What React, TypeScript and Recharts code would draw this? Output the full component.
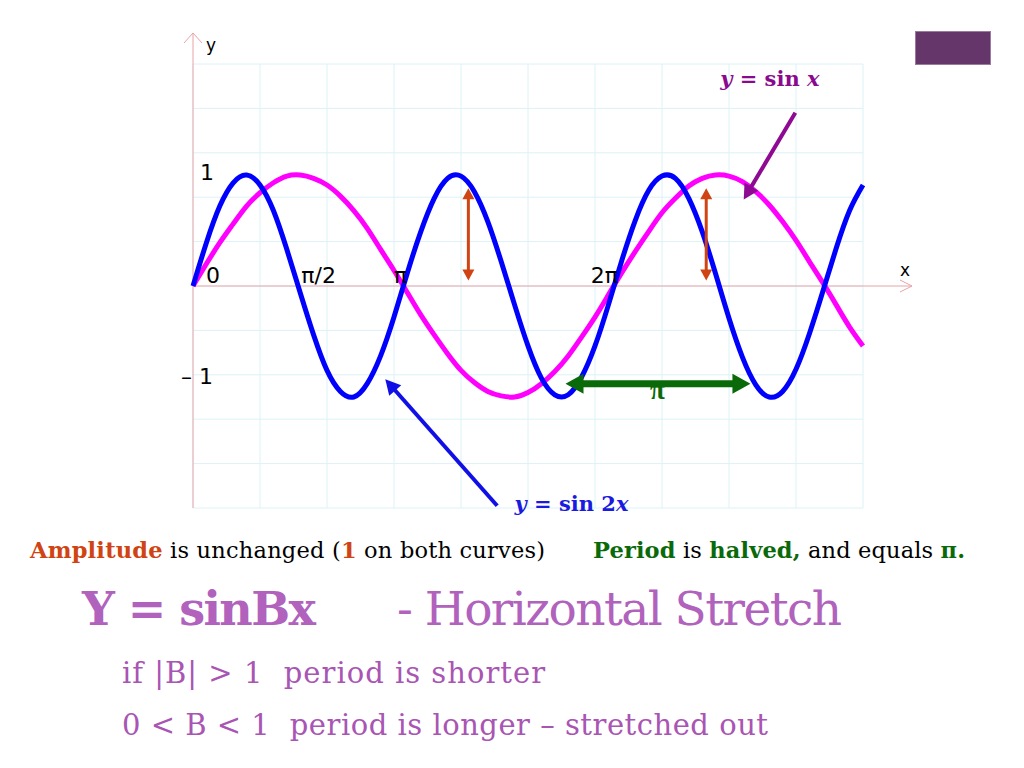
import React from 'react';
import { LineChart, Line, XAxis, YAxis, CartesianGrid, ReferenceLine, ReferenceDot } from 'recharts';

// sample positions along x (radians) and the two curves
const xValues = [
  0, 0.2, 0.4, 0.6, 0.8, 1.0, 1.2, 1.4, 1.6, 1.8,
  2.0, 2.2, 2.4, 2.6, 2.8, 3.0, 3.2, 3.4, 3.6, 3.8,
  4.0, 4.2, 4.4, 4.6, 4.8, 5.0, 5.2, 5.4, 5.6, 5.8,
  6.0, 6.2, 6.4, 6.6, 6.8, 7.0, 7.2, 7.4, 7.6, 7.8,
  8.0, 8.2, 8.4, 8.6, 8.8, 9.0, 9.2, 9.4, 9.6, 9.8, 10.0,
];

const sinX = [
  0, 0.2, 0.39, 0.56, 0.72, 0.84, 0.93, 0.99, 1.0, 0.97,
  0.91, 0.81, 0.68, 0.52, 0.33, 0.14, -0.06, -0.26, -0.44, -0.61,
  -0.76, -0.87, -0.95, -0.99, -1.0, -0.96, -0.88, -0.77, -0.63, -0.46,
  -0.28, -0.08, 0.12, 0.31, 0.49, 0.66, 0.79, 0.9, 0.97, 1.0,
  0.99, 0.94, 0.85, 0.73, 0.58, 0.41, 0.22, 0.03, -0.17, -0.37, -0.54,
];

const sin2X = [
  0, 0.39, 0.72, 0.93, 1.0, 0.91, 0.68, 0.33, -0.06, -0.44,
  -0.76, -0.95, -1.0, -0.88, -0.63, -0.28, 0.12, 0.49, 0.79, 0.97,
  0.99, 0.85, 0.58, 0.22, -0.17, -0.54, -0.83, -0.98, -0.98, -0.82,
  -0.54, -0.17, 0.23, 0.59, 0.86, 0.99, 0.97, 0.79, 0.49, 0.11,
  -0.29, -0.64, -0.89, -1.0, -0.95, -0.75, -0.43, -0.05, 0.34, 0.68, 0.91,
];

const gridX = [0, 1, 2, 3, 4, 5, 6, 7, 8, 9, 10];
const gridY = [-2, -1.6, -1.2, -0.8, -0.4, 0, 0.4, 0.8, 1.2, 1.6, 2];

const xLabelValues = [0, 1.5708, 3.1416, 6.2832];
const xLabelTexts = ['0', 'π/2', 'π', '2π'];
const yLabelValues = [1, -1];
const yLabelTexts = ['1', '– 1'];

// amplitude arrows (x position, y from/to) and period arrow (x from/to, y)
const amplitudeX = [4.11, 7.66];
const amplitudeY = [0.05, 0.88];
const periodX = [5.56, 8.32];
const periodY = -0.88;

const data = xValues.map((x, i) => ({ x, sinx: sinX[i], sin2x: sin2X[i] }));

const AXIS = '#e8a4a8';
const FONT_SANS = '"DejaVu Sans", sans-serif';
const FONT_SERIF = '"DejaVu Serif", serif';

const arrow = (color: string, width: number, len: number, half: number, both: boolean) => (p: any) => {
  const { x1, y1, x2, y2 } = p;
  const a = Math.atan2(y2 - y1, x2 - x1);
  const ux = Math.cos(a), uy = Math.sin(a);
  const head = (tx: number, ty: number, dx: number, dy: number) =>
    `${tx},${ty} ${tx - len * dx + half * -dy},${ty - len * dy + half * dx} ${tx - len * dx - half * -dy},${ty - len * dy - half * dx}`;
  const sx = both ? x1 + ux * len * 0.8 : x1;
  const sy = both ? y1 + uy * len * 0.8 : y1;
  return (
    <g>
      <line x1={sx} y1={sy} x2={x2 - ux * len * 0.8} y2={y2 - uy * len * 0.8} stroke={color} strokeWidth={width} />
      <polygon points={head(x2, y2, ux, uy)} fill={color} />
      {both && <polygon points={head(x1, y1, -ux, -uy)} fill={color} />}
    </g>
  );
};

const xAxisShape = (p: any) => {
  const y = p.y1;
  const left = Math.min(p.x1, p.x2);
  const right = Math.max(p.x1, p.x2) + 49;
  return (
    <g>
      <line x1={left} y1={y} x2={right} y2={y} stroke={AXIS} strokeWidth={1} />
      <polyline points={`${right - 12},${y - 6} ${right},${y} ${right - 12},${y + 6}`} fill="none" stroke={AXIS} strokeWidth={1} />
    </g>
  );
};

const yAxisShape = (p: any) => {
  const x = p.x1;
  const top = Math.min(p.y1, p.y2) - 31;
  const bottom = Math.max(p.y1, p.y2);
  return (
    <g>
      <line x1={x} y1={top} x2={x} y2={bottom} stroke={AXIS} strokeWidth={1} />
      <polyline points={`${x - 9},${top + 10} ${x},${top} ${x + 9},${top + 10}`} fill="none" stroke={AXIS} strokeWidth={1} />
    </g>
  );
};

const label = (content: React.ReactNode, dx: number, dy: number, anchor: string, style: React.CSSProperties) => (p: any) => (
  <text x={p.cx + dx} y={p.cy + dy} textAnchor={anchor} style={style}>
    {content}
  </text>
);

const tickStyle: React.CSSProperties = { fontFamily: FONT_SANS, fontSize: 22, fill: '#000' };
const xLabelOffsets = [
  { dx: 13, anchor: 'start' },
  { dx: 3, anchor: 'start' },
  { dx: -3, anchor: 'middle' },
  { dx: 4, anchor: 'end' },
];
const yLabelOffsets = [
  { dx: 7, dy: 5 },
  { dx: -12, dy: -13 },
];

export default function App() {
  return (
    <div style={{ position: 'absolute', left: 0, top: 0, width: 1024, height: 768, background: '#fff', overflow: 'hidden' }}>
      <div style={{ position: 'absolute', left: 915, top: 31, width: 76, height: 34, background: '#65366a', border: '1px solid #9a7a9e', boxSizing: 'border-box' }} />
      <LineChart
        width={1024}
        height={768}
        data={data}
        margin={{ top: 64, right: 161, bottom: 260, left: 193 }}
        style={{ position: 'absolute', left: 0, top: 0 }}
      >
        <CartesianGrid stroke="#dcf2f6" strokeWidth={1} />
        <XAxis dataKey="x" type="number" domain={[0, 10]} ticks={gridX} hide />
        <YAxis type="number" domain={[-2, 2]} ticks={gridY} hide />
        <ReferenceLine y={0} shape={xAxisShape} />
        <ReferenceLine x={0} shape={yAxisShape} />
        <Line type="natural" dataKey="sinx" stroke="#ff00ff" strokeWidth={5} dot={false} isAnimationActive={false} />
        <Line type="natural" dataKey="sin2x" stroke="#0000ff" strokeWidth={5} dot={false} isAnimationActive={false} />

        {amplitudeX.map((ax) => (
          <ReferenceLine
            key={`amp-${ax}`}
            segment={[{ x: ax, y: amplitudeY[0] }, { x: ax, y: amplitudeY[1] }]}
            shape={arrow('#d04312', 3, 11, 6, true)}
          />
        ))}
        <ReferenceLine
          segment={[{ x: periodX[0], y: periodY }, { x: periodX[1], y: periodY }]}
          shape={arrow('#0a6a0a', 7, 18, 10, true)}
        />
        <ReferenceLine
          segment={[{ x: 4.54, y: -1.98 }, { x: 2.87, y: -0.84 }]}
          shape={arrow('#1010e6', 4, 15, 8, false)}
        />
        <ReferenceLine
          segment={[{ x: 8.99, y: 1.56 }, { x: 8.22, y: 0.78 }]}
          shape={arrow('#8e0a92', 4, 15, 8, false)}
        />

        {xLabelValues.map((v, i) => (
          <ReferenceDot
            key={`xl-${i}`}
            x={v}
            y={0}
            r={0}
            ifOverflow="visible"
            shape={label(xLabelTexts[i], xLabelOffsets[i].dx, -3, xLabelOffsets[i].anchor, tickStyle)}
          />
        ))}
        {yLabelValues.map((v, i) => (
          <ReferenceDot
            key={`yl-${i}`}
            x={0}
            y={v}
            r={0}
            ifOverflow="visible"
            shape={label(yLabelTexts[i], yLabelOffsets[i].dx, yLabelOffsets[i].dy, 'start', tickStyle)}
          />
        ))}
        <ReferenceDot x={0} y={2} r={0} ifOverflow="visible" shape={label('y', 18, -13, 'middle', { fontFamily: FONT_SANS, fontSize: 17 })} />
        <ReferenceDot x={10} y={0} r={0} ifOverflow="visible" shape={label('x', 42, -10, 'middle', { fontFamily: FONT_SANS, fontSize: 17 })} />
        <ReferenceDot
          x={8.61}
          y={1.8}
          r={0}
          ifOverflow="visible"
          shape={label(
            <>
              <tspan fontStyle="italic">y</tspan> = sin <tspan fontStyle="italic">x</tspan>
            </>,
            0, 0, 'middle',
            { fontFamily: FONT_SERIF, fontWeight: 'bold', fontSize: 21, fill: '#8a0a8e', whiteSpace: 'pre' },
          )}
        />
        <ReferenceDot
          x={5.65}
          y={-2.03}
          r={0}
          ifOverflow="visible"
          shape={label(
            <>
              <tspan fontStyle="italic">y</tspan> = sin 2<tspan fontStyle="italic">x</tspan>
            </>,
            0, 0, 'middle',
            { fontFamily: FONT_SERIF, fontWeight: 'bold', fontSize: 21, fill: '#1a1ae0', whiteSpace: 'pre' },
          )}
        />
        <ReferenceDot
          x={6.93}
          y={-1.01}
          r={0}
          ifOverflow="visible"
          shape={label('π', 0, 1, 'middle', { fontFamily: '"Liberation Serif", serif', fontWeight: 'bold', fontSize: 27, fill: '#0a6a0a' })}
        />
      </LineChart>

      <svg width={1024} height={768} style={{ position: 'absolute', left: 0, top: 0, pointerEvents: 'none' }}>
        <text x={30} y={558} textLength={515} style={{ fontFamily: FONT_SERIF, fontSize: 22.5, fill: '#000', whiteSpace: 'pre' }}>
          <tspan fontWeight="bold" fill="#d04312">Amplitude</tspan>
          <tspan> is unchanged (</tspan>
          <tspan fontWeight="bold" fill="#d04312">1</tspan>
          <tspan> on both curves)</tspan>
        </text>
        <text x={593} y={558} textLength={372} style={{ fontFamily: FONT_SERIF, fontSize: 22.5, fill: '#000', whiteSpace: 'pre' }}>
          <tspan fontWeight="bold" fill="#0a6a0a">Period</tspan>
          <tspan> is </tspan>
          <tspan fontWeight="bold" fill="#0a6a0a">halved,</tspan>
          <tspan> and equals </tspan>
          <tspan fontWeight="bold" fill="#0a6a0a">π.</tspan>
        </text>
        <text x={82} y={625} textLength={234} style={{ fontFamily: FONT_SERIF, fontSize: 46, fontWeight: 'bold', fill: '#b062bc' }}>
          Y = sinBx
        </text>
        <text x={397} y={625} textLength={445} style={{ fontFamily: FONT_SERIF, fontSize: 47, fill: '#b062bc' }}>
          - Horizontal Stretch
        </text>
        <text x={122} y={683} textLength={423} style={{ fontFamily: FONT_SERIF, fontSize: 29, fill: '#a955b3', whiteSpace: 'pre' }}>
          {'if |B| > 1  period is shorter'}
        </text>
        <text x={122} y={735} textLength={646} style={{ fontFamily: FONT_SERIF, fontSize: 29, fill: '#a955b3', whiteSpace: 'pre' }}>
          {'0 < B < 1  period is longer – stretched out'}
        </text>
      </svg>
    </div>
  );
}
